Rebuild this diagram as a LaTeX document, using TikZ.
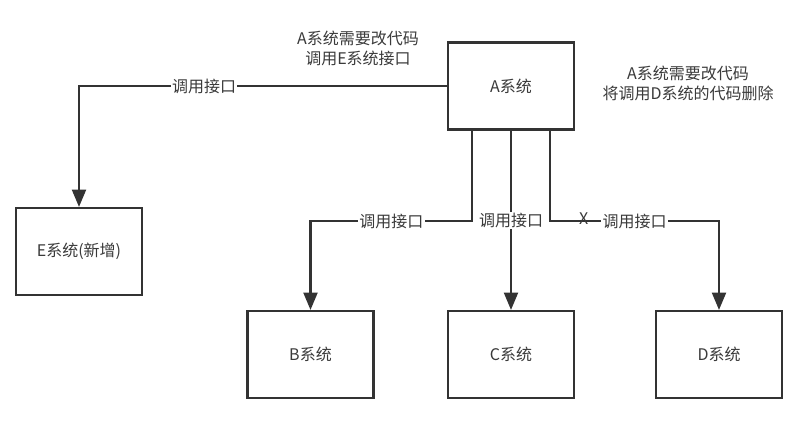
\documentclass[tikz,border=0pt]{standalone}
\usepackage{fontspec}
\setmainfont{Noto Sans CJK SC}
\usepackage{xcolor}
\usetikzlibrary{calc,arrows.meta}
\definecolor{DiagramInk}{HTML}{333333}
\definecolor{DiagramText}{HTML}{3A3A3A}
\newcommand{\BoxLabel}{\fontsize{12}{15}\selectfont}
\newcommand{\EdgeLabel}{\fontsize{12}{15}\selectfont}
\newcommand{\NoteLabel}{\fontsize{12}{15}\selectfont}
\tikzset{
  system box/.style={draw=DiagramInk,line width=1.6pt,fill=white,minimum width=94.5pt,
    minimum height=65.25pt,inner sep=0pt,text=DiagramText,font=\BoxLabel},
  call link/.style={draw=DiagramInk,line width=1.6pt,-{Triangle[length=13pt,width=10.5pt]}},
  call label/.style={fill=white,inner sep=1pt,text=DiagramText,font=\EdgeLabel},
  cut mark/.style={inner sep=0pt,text=DiagramText,font=\EdgeLabel},
  change note/.style={align=center,text=DiagramText,font=\NoteLabel}
}
\begin{document}
\begin{tikzpicture}[x=0.75pt,y=-0.75pt]
  % canvas in screen pixels, y grows downwards
  \path[use as bounding box] (0,0) rectangle (811,424);

  \node[system box] (sysA) at (511,86) {A系统};
  \node[system box] (sysE) at (79,251.5) {E系统(新增)};
  \node[system box] (sysB) at (310.5,354.5) {B系统};
  \node[system box] (sysC) at (511,354.5) {C系统};
  \node[system box] (sysD) at (719,354.5) {D系统};

  \node[change note] (noteE) at (358,48) {A系统需要改代码\\调用E系统接口};
  \node[change note] (noteD) at (688,83) {A系统需要改代码\\将调用D系统的代码删除};

  \coordinate (bendlevel) at (0,221);
  \coordinate (outB) at ($(sysA.south)+(-39,0)$);
  \coordinate (outD) at ($(sysA.south)+(39,0)$);

  \draw[call link] (sysA.west) -| node[call label,pos=0.33] {调用接口} (sysE.north);
  \draw[call link] (outB) |- node[call label,pos=0.75] {调用接口} (sysB.north |- bendlevel)
    -- (sysB.north);
  \draw[call link] (sysA.south) -- node[call label] {调用接口} (sysC.north);
  \draw[call link] (outD) |- node[cut mark,pos=0.6,yshift=1.5pt] {X}
    node[call label,pos=0.75] {调用接口} (sysD.north |- bendlevel) -- (sysD.north);
\end{tikzpicture}
\end{document}
